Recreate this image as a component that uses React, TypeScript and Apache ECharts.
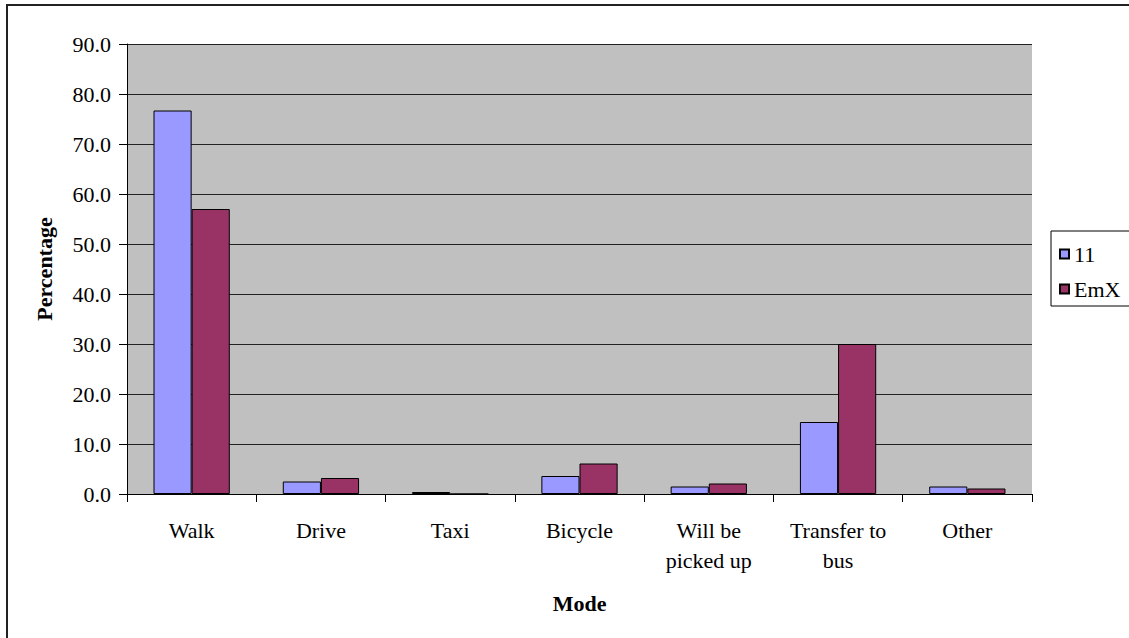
import React, { useEffect, useRef } from "react";
import * as echarts from "echarts";

// Access mode to station, share of respondents by route
const categories = ["Walk", "Drive", "Taxi", "Bicycle", "Will be\npicked up", "Transfer to\nbus", "Other"];
const route11 = [76.7, 2.5, 0.4, 3.6, 1.5, 14.4, 1.5];
const routeEmX = [57.0, 3.2, 0.0, 6.1, 2.1, 30.0, 1.1];
const seriesNames = ["11", "EmX"];
const yTicks = { min: 0, max: 90, interval: 10 };

const FONT = "Liberation Serif, Times New Roman, serif";
const FS = 22;

export default function App() {
  const ref = useRef<HTMLDivElement>(null);

  useEffect(() => {
    if (!ref.current) return;
    const chart = echarts.init(ref.current, undefined, { renderer: "svg" });
    chart.setOption({
      animation: false,
      backgroundColor: "#ffffff",
      textStyle: { fontFamily: FONT, color: "#000" },
      grid: {
        left: 127,
        right: 97,
        top: 44,
        bottom: 144,
        show: true,
        backgroundColor: "#C0C0C0",
        borderWidth: 0,
      },
      graphic: [
        {
          type: "rect",
          shape: { x: 7, y: 5, width: 1200, height: 700 },
          style: { fill: "none", stroke: "#222", lineWidth: 2 },
          silent: true,
        },
        {
          type: "rect",
          shape: { x: 1051, y: 231, width: 100, height: 75 },
          style: { fill: "#fff", stroke: "#000", lineWidth: 1 },
          silent: true,
          z: 1,
        },
      ],
      legend: {
        orient: "vertical",
        left: 1054,
        top: 238,
        itemWidth: 9,
        itemHeight: 9,
        itemGap: 13,
        icon: "rect",
        z: 5,
        textStyle: { fontFamily: FONT, fontSize: FS, color: "#000" },
        data: seriesNames,
      },
      xAxis: {
        type: "category",
        data: categories,
        name: "Mode",
        nameLocation: "middle",
        nameGap: 98,
        nameTextStyle: { fontFamily: FONT, fontSize: FS, fontWeight: "bold", color: "#000" },
        axisLine: { show: true, lineStyle: { color: "#000", width: 1 } },
        axisTick: { show: true, length: 8, lineStyle: { color: "#000" } },
        axisLabel: {
          fontFamily: FONT,
          fontSize: FS,
          lineHeight: 30,
          margin: 21,
          color: "#000",
          interval: 0,
        },
      },
      yAxis: {
        type: "value",
        min: yTicks.min,
        max: yTicks.max,
        interval: yTicks.interval,
        name: "Percentage",
        nameLocation: "middle",
        nameRotate: 90,
        nameGap: 72,
        nameTextStyle: { fontFamily: FONT, fontSize: FS, fontWeight: "bold", color: "#000" },
        axisLine: { show: true, lineStyle: { color: "#000", width: 1 } },
        axisTick: { show: true, length: 8, lineStyle: { color: "#000" } },
        axisLabel: {
          fontFamily: FONT,
          fontSize: FS,
          margin: 16,
          color: "#000",
          formatter: (v: number) => v.toFixed(1),
        },
        splitLine: { show: true, lineStyle: { color: "#222", width: 1 } },
      },
      series: [
        {
          name: seriesNames[0],
          type: "bar",
          data: route11,
          barGap: "0%",
          barCategoryGap: "41%",
          itemStyle: { color: "#9999FF", borderColor: "#000", borderWidth: 1 },
        },
        {
          name: seriesNames[1],
          type: "bar",
          data: routeEmX,
          barGap: "0%",
          barCategoryGap: "41%",
          itemStyle: { color: "#993366", borderColor: "#000", borderWidth: 1 },
        },
      ],
    });
    return () => chart.dispose();
  }, []);

  return (
    <div
      ref={ref}
      style={{ position: "fixed", left: 0, top: 0, width: 1129, height: 638 }}
    />
  );
}
